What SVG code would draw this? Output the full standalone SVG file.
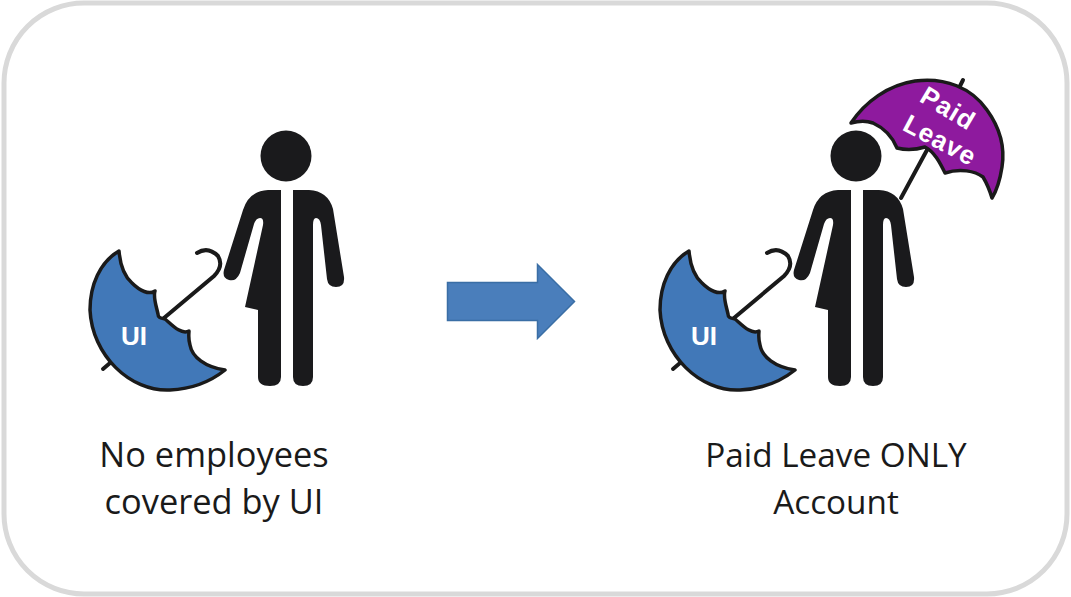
<svg xmlns="http://www.w3.org/2000/svg" width="1071" height="597" viewBox="0 0 1071 597">
<style>
.lbl{font-family:"Open Sans","Noto Sans",sans-serif;font-size:34.400px;fill:#1a1a1a;text-anchor:middle}
.lbr{font-size:33.300px}
.um{font-family:"Liberation Sans",Arial,sans-serif;font-weight:700;fill:#fff;text-anchor:middle}
.line{fill:none;stroke:#1a1a1a;stroke-width:4;stroke-linecap:round}
.body{fill:#1a1a1c}
</style>
<defs>
<g id="person">
<circle cx="286" cy="156" r="25.500" class="body"/>
<path class="body" d="M281 190V377Q281 386 270 386Q258 386 258 377V310L245 307L263 225Q264 218 260 218Q256 218 254 224L240 273Q236 282 229 280Q222 278 224 270L243 210Q249 191 268 190Z"/>
<path class="body" d="M293 190H309Q328 191 333 209L344 277Q345 287 336 287Q328 287 327 279L321 225Q320 218 316 218Q313 218 313 225V377Q313 386 303 386Q293 386 293 377Z"/>
</g>
<g id="ui">
<path class="line" d="M164 318L214 276Q224 266 218 256Q208 246 197 253"/>
<path class="line" d="M103 369L110 363"/>
<path d="M119 251C100 262 90 285 90 310C92 355 130 392 170 390C192 389 210 382 225 370C205 367 192 357 190 345C188 338 189 334 189 331C181 335 172 325 165 319C161 318 158 318 158 314C156 305 153 297 155 291C149 295 140 291 132 283C124 276 120 263 119 251Z" fill="#4178b8" stroke="#1a1a1a" stroke-width="3.500" stroke-linejoin="round"/>
<text x="134" y="345" class="um" font-size="26">UI</text>
</g>
</defs>
<rect width="1071" height="597" fill="#fff"/>
<rect id="frame" x="4" y="3" width="1063" height="591" rx="80" ry="80" fill="#fff" stroke="#d9d9d9" stroke-width="5"/>
<g id="left-figure">
<use href="#person"/>
<use href="#ui"/>
<text class="lbl" x="214" y="467">No employees</text>
<text class="lbl" x="214" y="514">covered by UI</text>
</g>
<g id="connectors">
<path id="arrow" d="M447.500 282.500H537.500V264.500L574.500 301.500L537.500 338.500V320.500H447.500Z" fill="#4a7ebb" stroke="#3a6ea5" stroke-width="1.500"/>
</g>
<g id="right-figure">
<path class="line" d="M927 150L901 198"/>
<path class="line" d="M960 86L963 80"/>
<path d="M851 123C865 102 888 85 915 81C945 77 972 88 987 110C1000 128 1005 148 1002 167C1000 180 997 190 992 198C989 188 986 182 983 177C975 171 960 168 945 173C941 165 935 152 925 147C915 150 905 150 897 148C892 136 884 128 873 123C865 120 858 121 851 123Z" fill="#8e1a9e" stroke="#1a1a1a" stroke-width="3.500" stroke-linejoin="round"/>
<text class="um" font-size="26" letter-spacing="1" transform="translate(943.500 116) rotate(31)">Paid</text>
<text class="um" font-size="26" letter-spacing="1" transform="translate(936 148) rotate(28)">Leave</text>
<use href="#person" x="570"/>
<use href="#ui" x="570"/>
<text class="lbl lbr" x="836" y="467">Paid Leave ONLY</text>
<text class="lbl lbr" x="836" y="514">Account</text>
</g>
</svg>
